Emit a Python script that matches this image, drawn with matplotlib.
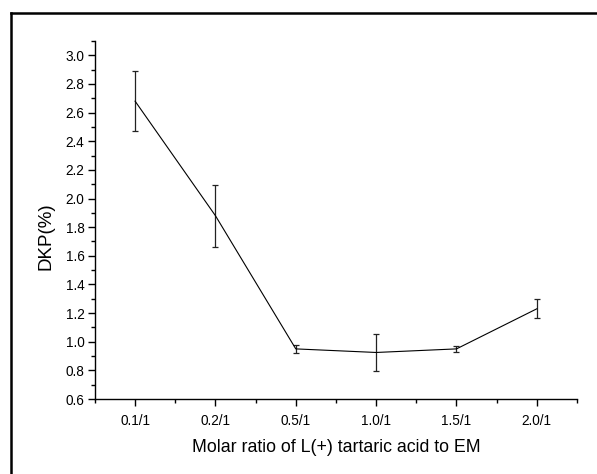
import matplotlib
matplotlib.use("Agg")
from matplotlib import pyplot as plt
from matplotlib.lines import Line2D
from matplotlib.ticker import MultipleLocator, FormatStrFormatter
import numpy as np

ratios = ["0.1/1", "0.2/1", "0.5/1", "1.0/1", "1.5/1", "2.0/1"]
dkp = [2.68, 1.88, 0.95, 0.925, 0.95, 1.23]
dkp_err = [0.21, 0.215, 0.03, 0.128, 0.02, 0.065]

plt.rcParams["font.family"] = ["Liberation Sans", "DejaVu Sans"]

fig = plt.figure(figsize=(5.97, 4.74), dpi=100)
ax = fig.add_axes([0.159, 0.1582, 0.8075, 0.7553])

x = np.arange(1, len(ratios) + 1)
ax.errorbar(x, dkp, yerr=dkp_err, color="black", ecolor="#222222",
            lw=0.8, elinewidth=0.9, capsize=2.4, capthick=0.9)

ax.set_xlim(0.5, 6.5)
ax.set_ylim(0.6, 3.1)
ax.set_xticks(x)
ax.set_xticklabels(ratios)
ax.xaxis.set_minor_locator(MultipleLocator(1, offset=0.5))
ax.set_yticks(np.arange(0.6, 3.01, 0.2))
ax.yaxis.set_minor_locator(MultipleLocator(0.1))
ax.yaxis.set_major_formatter(FormatStrFormatter("%.1f"))

for s in ["top", "right"]:
    ax.spines[s].set_visible(False)
for s in ["left", "bottom"]:
    ax.spines[s].set_linewidth(1.0)

ax.tick_params(which="major", direction="out", length=5, width=1.0, labelsize=9.8)
ax.tick_params(which="minor", direction="out", length=3, width=1.0)
ax.tick_params(axis="x", which="major", pad=6)
ax.tick_params(axis="y", which="major", pad=2.5)

ax.set_xlabel("Molar ratio of L(+) tartaric acid to EM", fontsize=12.8, labelpad=8)
ax.set_ylabel("DKP(%)", fontsize=13.5)
# Origin put the y label a bit below the axis middle
ax.yaxis.set_label_coords(-0.083, 0.455)

# frame around the figure (only top and left edges show)
fig.add_artist(Line2D([11 / 597, 1.0], [1 - 13 / 474, 1 - 13 / 474],
                      transform=fig.transFigure, color="black", lw=1.8))
fig.add_artist(Line2D([11 / 597, 11 / 597], [0, 1 - 13 / 474],
                      transform=fig.transFigure, color="black", lw=1.8))

fig.savefig("out.png", dpi=100)
